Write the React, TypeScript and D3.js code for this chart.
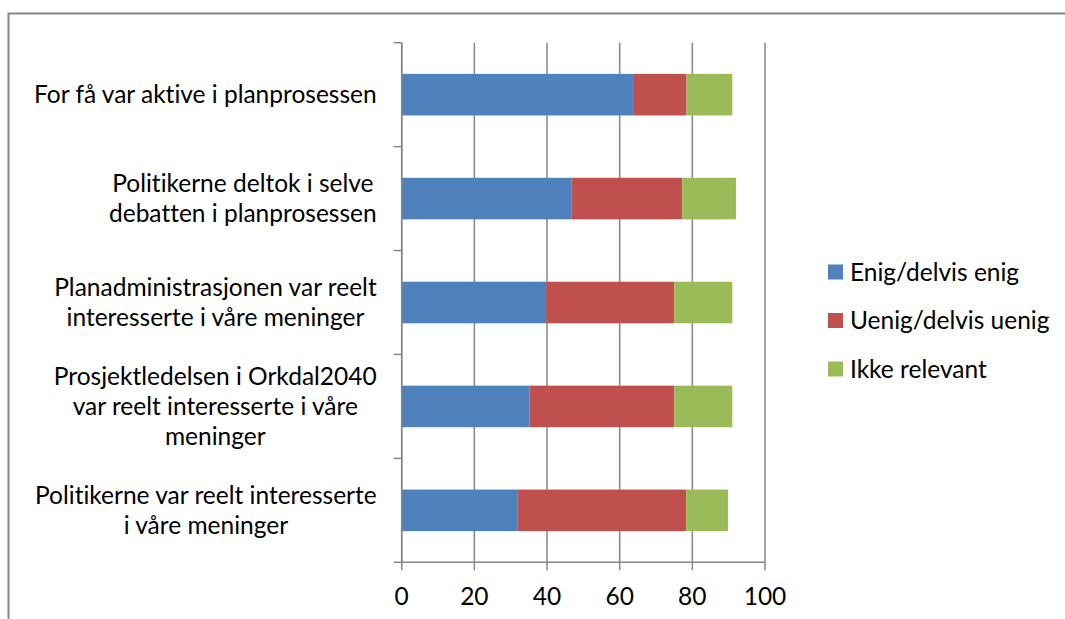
import React, { useEffect, useRef } from 'react';
import * as d3 from 'd3';

// categories top to bottom, each array entry is one wrapped line
const categories = [
  'For få var aktive i planprosessen',
  'Politikerne deltok i selve debatten i planprosessen',
  'Planadministrasjonen var reelt interesserte i våre meninger',
  'Prosjektledelsen i Orkdal2040 var reelt interesserte i våre meninger',
  'Politikerne var reelt interesserte i våre meninger',
];
const categoryLines = [
  ['For få var aktive i planprosessen'],
  ['Politikerne deltok i selve', 'debatten i planprosessen'],
  ['Planadministrasjonen var reelt', 'interesserte i våre meninger'],
  ['Prosjektledelsen i Orkdal2040', 'var reelt interesserte i våre', 'meninger'],
  ['Politikerne var reelt interesserte', 'i våre meninger'],
];

const seriesNames = ['Enig/delvis enig', 'Uenig/delvis uenig', 'Ikke relevant'];
const enig = [63.7, 46.8, 39.8, 35.2, 31.8];
const uenig = [14.7, 30.4, 35.2, 39.8, 46.5];
const ikkeRelevant = [12.6, 14.8, 16.0, 16.0, 11.5];
const seriesColors = ['#4F81BD', '#C0504D', '#9BBB59'];

const xTicks = [0, 20, 40, 60, 80, 100];

const W = 1065;
const H = 619;
const FONT = 'Lato, "Liberation Sans", sans-serif';
const FS = 24.5;

const App: React.FC = () => {
  const svgRef = useRef<SVGSVGElement>(null);

  useEffect(() => {
    if (!svgRef.current) {return;}
    const svg = d3.select(svgRef.current);
    svg.selectAll('*').remove();

    const margin = { top: 42.7, left: 401.7, right: 300, bottom: 56.7 };
    const plotW = 765 - margin.left;
    const plotH = H - margin.top - margin.bottom;

    // outer chart border
    svg.append('rect')
      .attr('x', 8.5).attr('y', 13.5)
      .attr('width', W + 20).attr('height', H + 20)
      .attr('fill', 'none')
      .attr('stroke', '#868686')
      .attr('stroke-width', 2);

    const x = d3.scaleLinear().domain([0, 100]).range([0, plotW]);
    const y = d3.scaleBand<number>()
      .domain(d3.range(categories.length))
      .range([0, plotH])
      .paddingInner(0.6)
      .paddingOuter(0.3);

    const g = svg.append('g').attr('transform', `translate(${margin.left},${margin.top})`);

    // gridlines
    g.selectAll('.grid')
      .data(xTicks)
      .enter()
      .append('line')
      .attr('x1', d => x(d)).attr('x2', d => x(d))
      .attr('y1', 0).attr('y2', plotH)
      .attr('stroke', '#868686')
      .attr('stroke-width', 1.5);

    // stacked bars
    const rows = categories.map((c, i) => ({ key: i, enig: enig[i], uenig: uenig[i], ikke: ikkeRelevant[i] }));
    const stack = d3.stack<any>().keys(['enig', 'uenig', 'ikke']);
    const stacked = stack(rows);

    stacked.forEach((layer, si) => {
      g.selectAll(`.bar-${si}`)
        .data(layer)
        .enter()
        .append('rect')
        .attr('x', d => x(d[0]))
        .attr('y', (d, i) => y(i) || 0)
        .attr('width', d => x(d[1]) - x(d[0]))
        .attr('height', y.bandwidth())
        .attr('fill', seriesColors[si]);
    });

    // y axis line + ticks
    g.append('line')
      .attr('x1', 0).attr('x2', 0).attr('y1', 0).attr('y2', plotH)
      .attr('stroke', '#868686').attr('stroke-width', 1.5);
    const bounds = d3.range(categories.length + 1).map(i => i * y.step());
    g.selectAll('.ytick')
      .data(bounds)
      .enter()
      .append('line')
      .attr('x1', -8).attr('x2', 0)
      .attr('y1', d => d).attr('y2', d => d)
      .attr('stroke', '#868686').attr('stroke-width', 1.5);

    // x axis line + ticks
    g.append('line')
      .attr('x1', 0).attr('x2', plotW).attr('y1', plotH).attr('y2', plotH)
      .attr('stroke', '#868686').attr('stroke-width', 1.5);
    g.selectAll('.xtick')
      .data(xTicks)
      .enter()
      .append('line')
      .attr('x1', d => x(d)).attr('x2', d => x(d))
      .attr('y1', plotH).attr('y2', plotH + 8)
      .attr('stroke', '#868686').attr('stroke-width', 1.5);
    g.selectAll('.xlabel')
      .data(xTicks)
      .enter()
      .append('text')
      .attr('x', d => x(d))
      .attr('y', plotH + 43)
      .attr('text-anchor', 'middle')
      .attr('font-family', FONT)
      .attr('font-size', FS)
      .attr('fill', '#000')
      .text(d => d);

    // category labels: lines centred within block, block right-aligned
    const lineH = 30;
    const rightEdge = -25;
    categoryLines.forEach((lines, i) => {
      const cy = (y(i) || 0) + y.bandwidth() / 2;
      const lg = g.append('g');
      const texts = lines.map((ln, li) =>
        lg.append('text')
          .attr('y', cy + (li - (lines.length - 1) / 2) * lineH)
          .attr('dy', '0.35em')
          .attr('text-anchor', 'middle')
          .attr('font-family', FONT)
          .attr('font-size', FS)
          .style('font-variant-ligatures', 'none')
          .attr('fill', '#000')
          .text(ln)
      );
      const maxW = d3.max(texts, t => (t.node() as SVGTextElement).getComputedTextLength()) || 0;
      texts.forEach(t => t.attr('x', rightEdge - maxW / 2));
    });

    // legend
    const legend = svg.append('g').attr('transform', 'translate(828,272)');
    seriesNames.forEach((name, i) => {
      const row = legend.append('g').attr('transform', `translate(0,${i * 48.5})`);
      row.append('rect')
        .attr('x', 0).attr('y', -7.5)
        .attr('width', 15).attr('height', 15)
        .attr('fill', seriesColors[i]);
      row.append('text')
        .attr('x', 22).attr('y', 0)
        .attr('dy', '0.35em')
        .attr('font-family', FONT)
        .attr('font-size', FS)
        .style('font-variant-ligatures', 'none')
        .attr('fill', '#000')
        .text(name);
    });
  }, []);

  return (
    <svg
      ref={svgRef}
      width={W}
      height={H}
      style={{ position: 'absolute', left: 0, top: 0, background: '#fff' }}
    />
  );
};

export default App;
